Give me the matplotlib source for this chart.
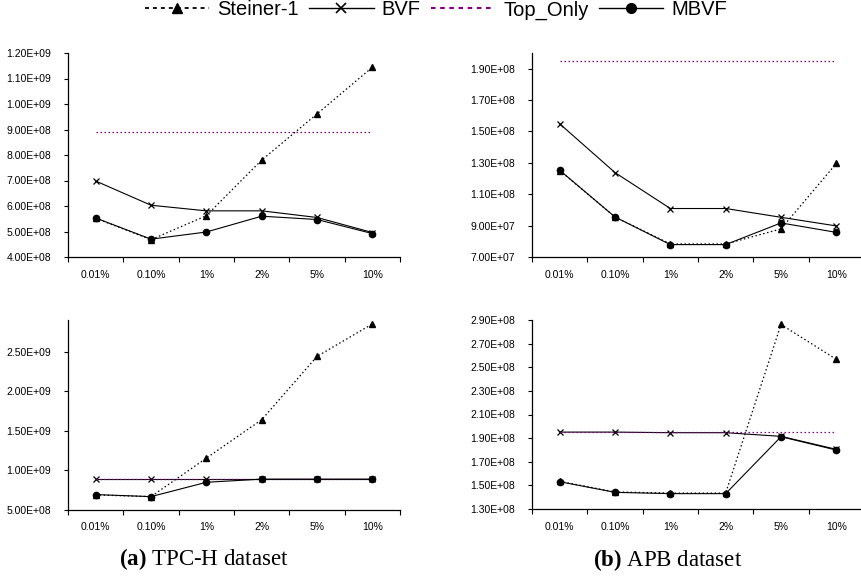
import matplotlib
matplotlib.use("Agg")
import matplotlib.pyplot as plt
from matplotlib.lines import Line2D
import numpy as np

categories = ["0.01%", "0.10%", "1%", "2%", "5%", "10%"]

# (a) TPC-H top
tpch_top_steiner = [5.52e8, 4.68e8, 5.62e8, 7.80e8, 9.61e8, 1.144e9]
tpch_top_bvf = [6.98e8, 6.03e8, 5.81e8, 5.81e8, 5.55e8, 4.96e8]
tpch_top_toponly = [8.89e8] * 6
tpch_top_mbvf = [5.53e8, 4.70e8, 4.98e8, 5.60e8, 5.47e8, 4.92e8]

# (b) APB top
apb_top_steiner = [1.251e8, 9.55e7, 7.83e7, 7.83e7, 8.79e7, 1.296e8]
apb_top_bvf = [1.549e8, 1.238e8, 1.009e8, 1.009e8, 9.53e7, 8.98e7]
apb_top_toponly = [1.95e8] * 6
apb_top_mbvf = [1.253e8, 9.55e7, 7.79e7, 7.79e7, 9.17e7, 8.57e7]

# (a) TPC-H bottom
tpch_bot_steiner = [6.90e8, 6.69e8, 1.155e9, 1.64e9, 2.44e9, 2.85e9]
tpch_bot_bvf = [8.90e8, 8.90e8, 8.90e8, 8.90e8, 8.90e8, 8.90e8]
tpch_bot_toponly = [8.90e8] * 6
tpch_bot_mbvf = [6.95e8, 6.69e8, 8.50e8, 8.90e8, 8.90e8, 8.90e8]

# (b) APB bottom
apb_bot_steiner = [1.534e8, 1.444e8, 1.435e8, 1.435e8, 2.862e8, 2.567e8]
apb_bot_bvf = [1.951e8, 1.951e8, 1.946e8, 1.946e8, 1.915e8, 1.805e8]
apb_bot_toponly = [1.951e8] * 6
apb_bot_mbvf = [1.531e8, 1.441e8, 1.430e8, 1.430e8, 1.912e8, 1.799e8]

series_names = ["Steiner-1", "BVF", "Top_Only", "MBVF"]

W, H = 862, 582
plt.rcParams['font.family'] = ['Liberation Sans', 'DejaVu Sans']
plt.rcParams['mathtext.fontset'] = 'custom'
plt.rcParams['mathtext.rm'] = 'Liberation Serif'
plt.rcParams['mathtext.bf'] = 'Liberation Serif:bold'
fig = plt.figure(figsize=(W / 100, H / 100), dpi=100)

PURPLE = "#800080"

def px_axes(x0, y0, x1, y1):
    return fig.add_axes([x0 / W, (H - y1) / H, (x1 - x0) / W, (y1 - y0) / H])

def draw(ax, steiner, bvf, toponly, mbvf, ylo, yhi, step, ytop=None):
    x = np.arange(len(categories))
    ax.plot(x, steiner, color="black", lw=0.9, ls=(0, (1.2, 2.0)), marker="^",
            ms=5, mfc="black", mec="black", zorder=3)
    ax.plot(x, bvf, color="black", lw=0.8, ls="-", marker="x", ms=5, mew=0.9, zorder=4)
    ax.plot(x, toponly, color=PURPLE, lw=0.9, ls=(0, (1.2, 2.0)), zorder=5)
    ax.plot(x, mbvf, color="black", lw=0.8, ls="-", marker="o", ms=4.5,
            mfc="black", mec="black", zorder=6)
    ax.set_xlim(-0.5, len(categories) - 0.5)
    ax.set_ylim(ylo, yhi)
    top = yhi if ytop is None else ytop
    ticks = np.arange(ylo, top + step * 0.01, step)
    ax.set_yticks(ticks)
    ax.set_yticklabels([f"{t:.2E}" for t in ticks])
    ax.set_xticks(np.arange(len(categories) + 1) - 0.5)
    ax.set_xticklabels([])
    ax.set_xticks(x, minor=True)
    ax.set_xticklabels(categories, minor=True)
    ax.tick_params(axis="x", which="major", direction="out", length=3.5, width=0.8)
    ax.tick_params(axis="x", which="minor", length=0, pad=9, labelsize=7.5)
    ax.tick_params(axis="y", direction="out", length=3, width=0.8, pad=9, labelsize=7.5)
    for s in ["top", "right"]:
        ax.spines[s].set_visible(False)
    for s in ["left", "bottom"]:
        ax.spines[s].set_linewidth(0.9)
    ax.set_facecolor("none")

ax1 = px_axes(68, 53, 400, 257)
draw(ax1, tpch_top_steiner, tpch_top_bvf, tpch_top_toponly, tpch_top_mbvf, 4e8, 1.2e9, 1e8)

ax2 = px_axes(532, 53, 864, 257)
draw(ax2, apb_top_steiner, apb_top_bvf, apb_top_toponly, apb_top_mbvf, 7e7, 2.0e8, 2e7, ytop=1.9e8)

ax3 = px_axes(68, 320, 400, 510)
draw(ax3, tpch_bot_steiner, tpch_bot_bvf, tpch_bot_toponly, tpch_bot_mbvf, 5e8, 2.9e9, 5e8, ytop=2.5e9)

ax4 = px_axes(532, 320, 864, 509)
draw(ax4, apb_bot_steiner, apb_bot_bvf, apb_bot_toponly, apb_bot_mbvf, 1.3e8, 2.9e8, 2e7)

# legend
handles = [
    Line2D([], [], color="black", lw=1.3, ls=(0, (2.2, 2.2)), marker="^", ms=7.5),
    Line2D([], [], color="black", lw=1.0, ls="-", marker="x", ms=7.5, mew=1.2),
    Line2D([], [], color=PURPLE, lw=1.5, ls=(0, (2.2, 2.2))),
    Line2D([], [], color="black", lw=1.0, ls="-", marker="o", ms=7),
]
fig.legend(handles, series_names, loc="center", bbox_to_anchor=(436 / W, 1 - 10 / H),
           ncol=4, frameon=False, fontsize=14.5, handlelength=3.2, handletextpad=0.4,
           columnspacing=0.5, borderpad=0, borderaxespad=0)

# captions
serif = ['Liberation Serif', 'DejaVu Serif']
fig.text(204 / W, 1 - 559 / H, r"$\mathbf{(a)}$ TPC-H dataset", ha="center", va="center",
         fontsize=16.5, family=serif)
fig.text(668 / W, 1 - 560 / H, r"$\mathbf{(b)}$ APB dataset", ha="center", va="center",
         fontsize=16.5, family=serif)

fig.savefig("out.png", dpi=100)
